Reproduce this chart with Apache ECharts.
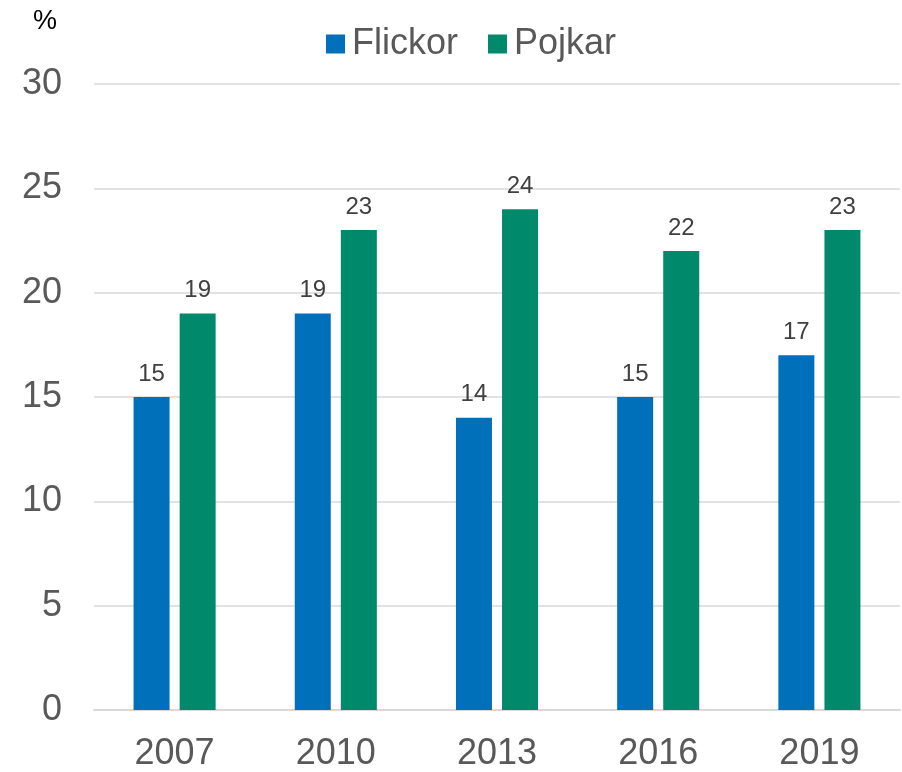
<!DOCTYPE html>
<html><head><meta charset="utf-8">
<script src="https://cdn.jsdelivr.net/npm/echarts@6/dist/echarts.min.js"></script>
<style>html,body{margin:0;padding:0;background:#fff}#c{width:902px;height:772px}</style>
</head><body><div id="c"></div>
<script>
var years = ['2007','2010','2013','2016','2019'];
var flickor = [15,19,14,15,17];
var pojkar = [19,23,24,22,23];
var yTicks = [0,5,10,15,20,25,30];
var FONT = '"Liberation Sans", Arial, sans-serif';
var chart = echarts.init(document.getElementById('c'));
chart.setOption({
  animation:false,
  textStyle:{fontFamily:FONT},
  graphic:[{type:'text',left:33,top:8,style:{text:'%',font:'27px '+FONT,fill:'#000'}}],
  legend:{top:21,left:321,itemWidth:19,itemHeight:19,itemGap:30,icon:'rect',
    textStyle:{fontSize:36,color:'#595959',fontFamily:FONT,padding:[0,0,0,2]},
    data:['Flickor','Pojkar']},
  grid:{left:94,right:2,top:84,bottom:60,containLabel:false},
  xAxis:{type:'category',data:years,
    axisLine:{lineStyle:{color:'#d9d9d9',width:2}},axisTick:{show:false},
    axisLabel:{fontSize:36,color:'#595959',margin:26,fontFamily:FONT}},
  yAxis:{type:'value',min:yTicks[0],max:yTicks[yTicks.length-1],interval:5,
    axisLine:{show:false},axisTick:{show:false},
    splitLine:{lineStyle:{color:'#d9d9d9',width:1.5}},
    axisLabel:{fontSize:36,color:'#595959',margin:32,fontFamily:FONT}},
  series:[
    {name:'Flickor',type:'bar',data:flickor,barWidth:36,barGap:'28%',
     itemStyle:{color:'#0070BA'},
     label:{show:true,position:'top',distance:11,fontSize:24,color:'#404040',fontFamily:FONT}},
    {name:'Pojkar',type:'bar',data:pojkar,barWidth:36,barGap:'28%',
     itemStyle:{color:'#00896B'},
     label:{show:true,position:'top',distance:11,fontSize:24,color:'#404040',fontFamily:FONT}}
  ]
});
</script></body></html>
